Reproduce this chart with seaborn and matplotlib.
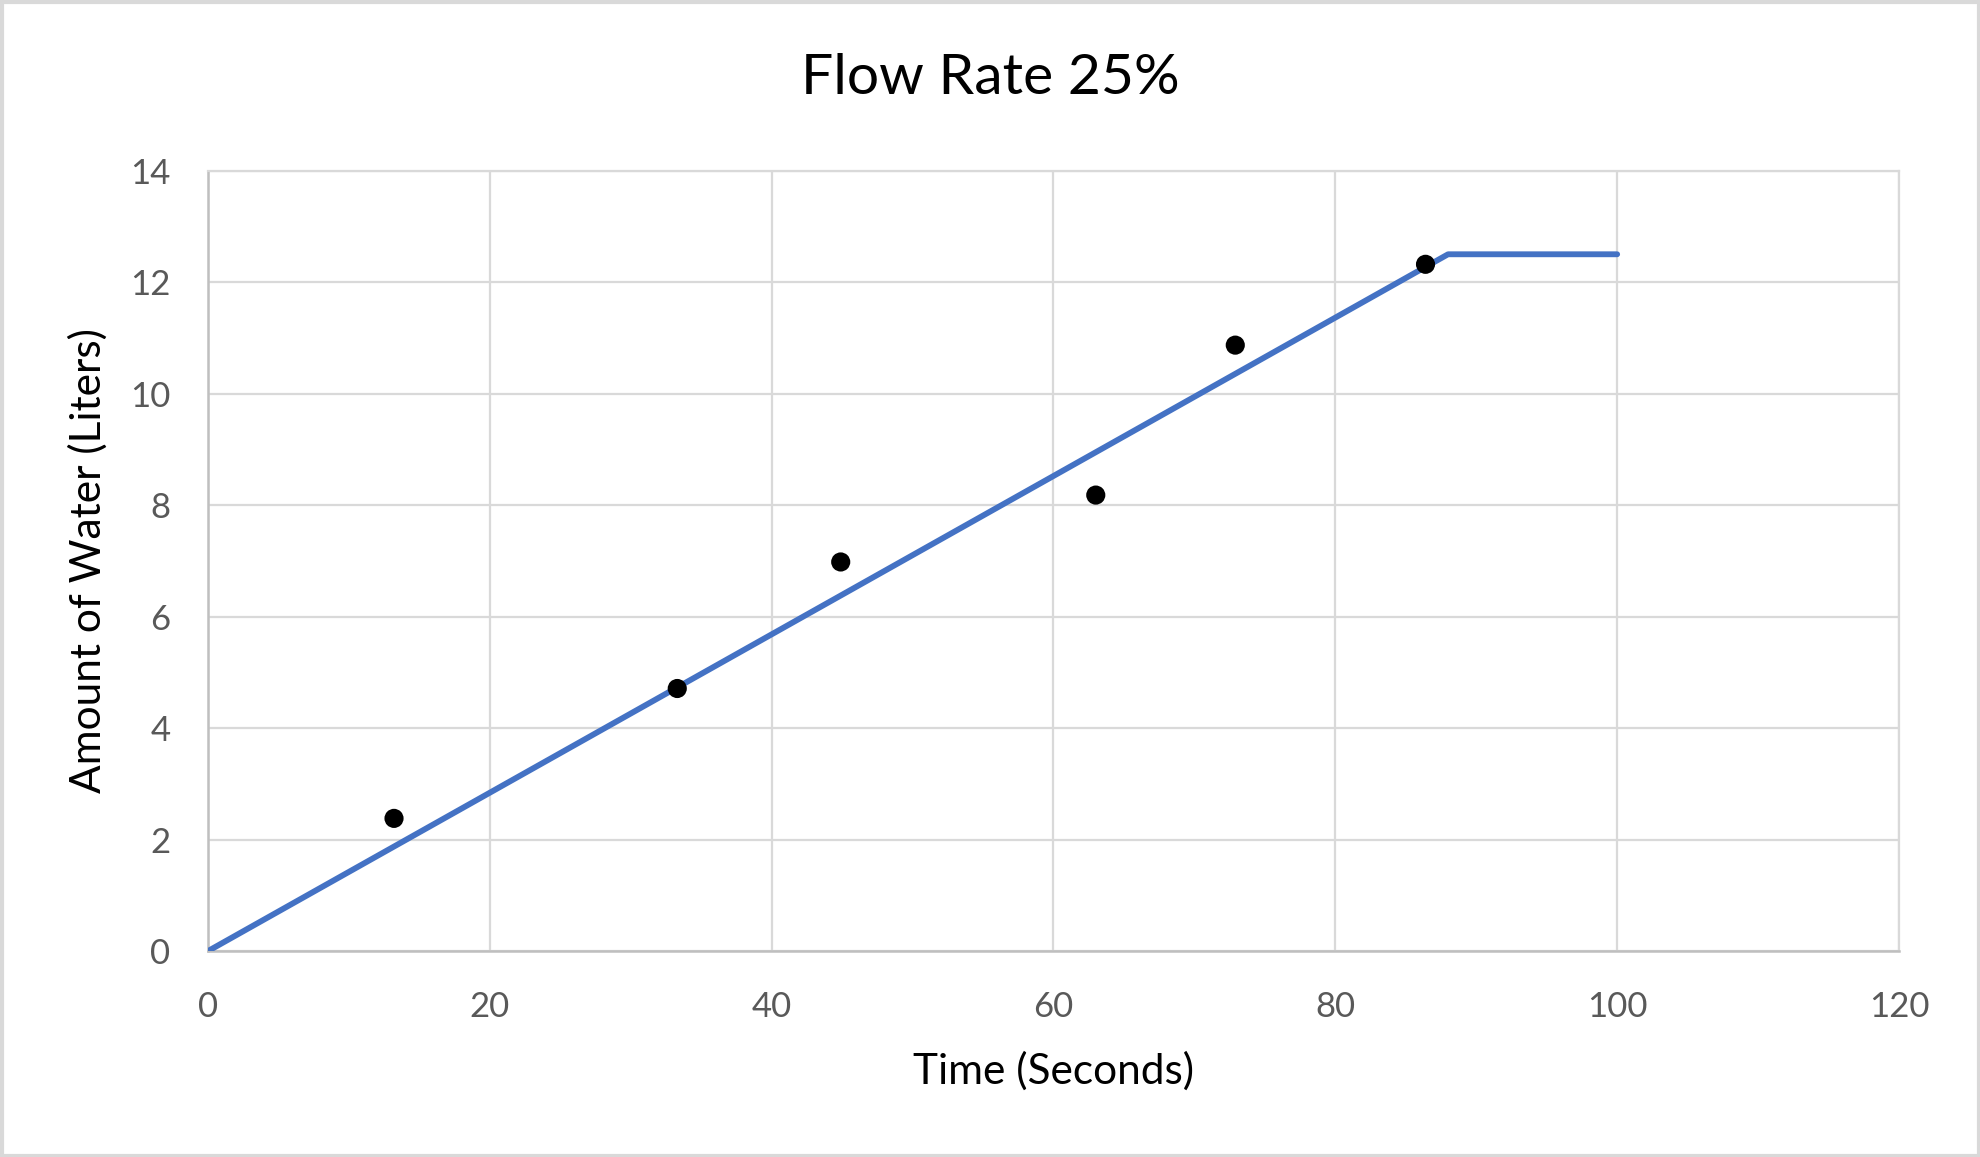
import matplotlib
matplotlib.use('Agg')
import matplotlib.pyplot as plt
import seaborn as sns
import pandas as pd
from matplotlib.patches import Rectangle

# measured points
time_s = [13.2, 33.3, 44.9, 63.0, 72.9, 86.4]
water_l = [2.38, 4.71, 6.98, 8.18, 10.87, 12.32]

# model line (fill then plateau)
line_time = [0, 88, 100]
line_water = [0, 12.5, 12.5]

x_ticks = [0, 20, 40, 60, 80, 100, 120]
y_ticks = [0, 2, 4, 6, 8, 10, 12, 14]

sns.set_style('white')
plt.rcParams['font.family'] = ['Lato', 'DejaVu Sans']

pts = pd.DataFrame({'time': time_s, 'water': water_l})
model = pd.DataFrame({'time': line_time, 'water': line_water})

fig = plt.figure(figsize=(19.81, 11.57), dpi=100)
ax = fig.add_axes([0.105, 0.178, 0.8536, 0.6745])

sns.lineplot(data=model, x='time', y='water', color='#4472C4', linewidth=4.2,
             ax=ax, zorder=3, solid_capstyle='round')
sns.scatterplot(data=pts, x='time', y='water', color='black', s=190,
                edgecolor='none', ax=ax, zorder=4)

ax.set_xlim(0, 120)
ax.set_ylim(0, 14)
ax.set_xticks(x_ticks)
ax.set_yticks(y_ticks)
ax.grid(True, color='#d9d9d9', linewidth=1.6)
ax.set_axisbelow(True)
for side in ['top', 'right']:
    ax.spines[side].set_color('#d9d9d9')
    ax.spines[side].set_linewidth(1.6)
for side in ['left', 'bottom']:
    ax.spines[side].set_color('#bfbfbf')
    ax.spines[side].set_linewidth(1.8)
ax.tick_params(length=0, labelsize=25, labelcolor='#595959')
ax.tick_params(axis='x', pad=29)
ax.tick_params(axis='y', pad=27)

ax.set_xlabel('Time (Seconds)', fontsize=30.5, color='black', labelpad=20)
ax.set_ylabel('Amount of Water (Liters)', fontsize=30.5, color='black', labelpad=16)
fig.text(0.5, 0.932, 'Flow Rate 25%', ha='center', va='center', fontsize=41, color='black')

fig.patches.append(Rectangle((0.001, 0.001), 0.998, 0.997, transform=fig.transFigure,
                             fill=False, edgecolor='#d9d9d9', linewidth=3))

fig.savefig('out.png', dpi=100)
